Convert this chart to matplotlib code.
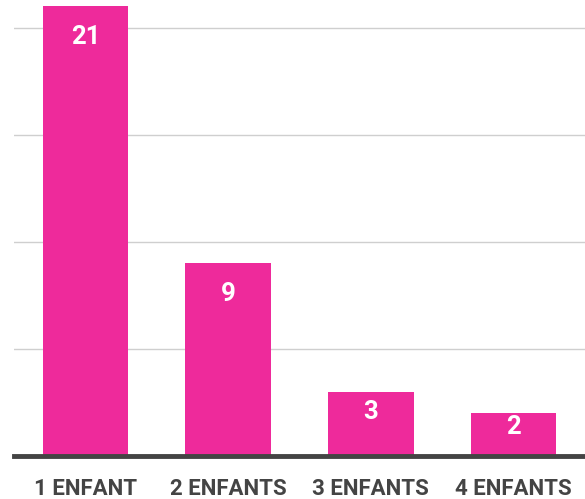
import matplotlib
matplotlib.use("Agg")
import matplotlib.pyplot as plt

categories = ["1 ENFANT", "2 ENFANTS", "3 ENFANTS", "4 ENFANTS"]
values = [21, 9, 3, 2]

W, H = 585, 499
fig = plt.figure(figsize=(W / 100, H / 100), dpi=100)
ax = fig.add_axes([14 / W, 43 / H, 571 / W, 456 / H])

x = list(range(len(categories)))
ax.bar(x, values, width=0.6, color="#EE2A9B", zorder=3, clip_on=False)
ax.set_xlim(-0.5, 3.5)
ax.set_ylim(0, 21.3)

for yv in [5, 10, 15, 20]:
    ax.axhline(yv, color="#cfcfcf", lw=1, zorder=1)
ax.axhline(0, color="#444444", lw=3.5, zorder=4, clip_on=False)

for xi, v in zip(x, values):
    ly = max(v - 1.45, v * 0.68)
    ax.text(xi, ly, str(v), ha="center", va="center", color="white",
            fontsize=18.5, fontweight="bold", family="Roboto", zorder=5)

ax.set_xticks(x)
ax.set_xticklabels(categories, fontsize=16, fontweight="bold", family="Roboto", color="#444444")
ax.tick_params(axis="x", length=0, pad=16)
ax.set_yticks([])
for s in ax.spines.values():
    s.set_visible(False)

fig.savefig("out.png", dpi=100)
